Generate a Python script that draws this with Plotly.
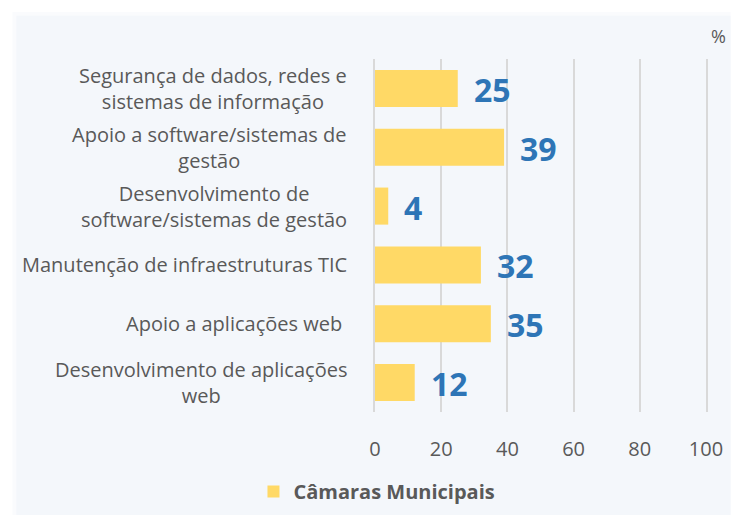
import plotly.graph_objects as go

categories = [
    "Segurança de dados, redes e<br>sistemas de informação",
    "Apoio a software/sistemas de<br>gestão",
    "Desenvolvimento de<br>software/sistemas de gestão",
    "Manutenção de infraestruturas TIC",
    "Apoio a aplicações web ",
    "Desenvolvimento de aplicações<br>web",
]
values = [25, 39, 4, 32, 35, 12]
series_name = "Câmaras Municipais"
x_ticks = [0, 20, 40, 60, 80, 100]

FONT = "Open Sans"
GRAY = "#595959"
BLUE = "#2E75B6"
GOLD = "#FFD966"
BG = "#F4F7FB"
GRID = "#D9D9D9"

W, H = 735, 523
L, R, T, B = 375, 24, 59, 104
PW, PH = W - L - R, H - T - B

def px2paper_x(px):
    return (px - L) / PW

def px2paper_y(py):
    return (H - B - py) / PH

fig = go.Figure()
fig.add_trace(go.Bar(
    x=values, y=categories, orientation="h",
    marker=dict(color=GOLD, line=dict(width=0)),
    name=series_name, showlegend=True,
))

annotations = []
for cat in categories:
    annotations.append(dict(
        x=0, xref="paper", xshift=-26, xanchor="right",
        y=cat, yref="y", yanchor="middle",
        text=cat, showarrow=False, align="center",
        font=dict(family=FONT, size=20, color=GRAY),
    ))
for cat, v in zip(categories, values):
    annotations.append(dict(
        x=v, xref="x", xshift=14, xanchor="left",
        y=cat, yref="y", yanchor="middle", yshift=-1,
        text=f"<b>{v}</b>", showarrow=False,
        font=dict(family=FONT, size=32, color=BLUE),
    ))
annotations.append(dict(
    x=px2paper_x(733), xref="paper", xanchor="right",
    y=px2paper_y(36), yref="paper", yanchor="middle",
    text="%", showarrow=False,
    font=dict(family=FONT, size=18, color=GRAY),
))

fig.update_layout(
    width=W, height=H,
    margin=dict(l=L, r=R, t=T, b=B, pad=0),
    paper_bgcolor="white", plot_bgcolor=BG,
    bargap=0.37,
    font=dict(family=FONT, size=20, color=GRAY),
    xaxis=dict(
        range=[0, 100], tickvals=x_ticks, showgrid=True,
        gridcolor=GRID, gridwidth=1.5, zeroline=False,
        showline=False, ticks="", ticklabelstandoff=23,
        tickfont=dict(family=FONT, size=20, color=GRAY),
    ),
    yaxis=dict(
        categoryorder="array", categoryarray=categories,
        autorange="reversed", showticklabels=False,
        showgrid=False, zeroline=False, ticks="",
        showline=True, mirror=True, linecolor=GRID, linewidth=1.5,
    ),
    legend=dict(
        orientation="h", x=px2paper_x(377), xanchor="center",
        y=px2paper_y(500), yanchor="middle",
        font=dict(family=FONT, size=20, color=GRAY, weight="bold"),
        bgcolor="rgba(0,0,0,0)",
    ),
    annotations=annotations,
    shapes=[
        dict(
            type="rect", xref="paper", yref="paper", layer="below",
            x0=px2paper_x(7), x1=px2paper_x(736),
            y0=px2paper_y(524), y1=px2paper_y(11),
            fillcolor="#FAFBFD", line=dict(width=0),
        ),
        dict(
            type="rect", xref="paper", yref="paper", layer="below",
            x0=px2paper_x(11), x1=px2paper_x(736),
            y0=px2paper_y(524), y1=px2paper_y(15),
            fillcolor=BG, line=dict(width=0),
        ),
    ],
)

fig.write_html(
    "out.html",
    config={"displayModeBar": False},
    post_script="document.body.style.margin='0';document.body.style.overflow='hidden';",
)
